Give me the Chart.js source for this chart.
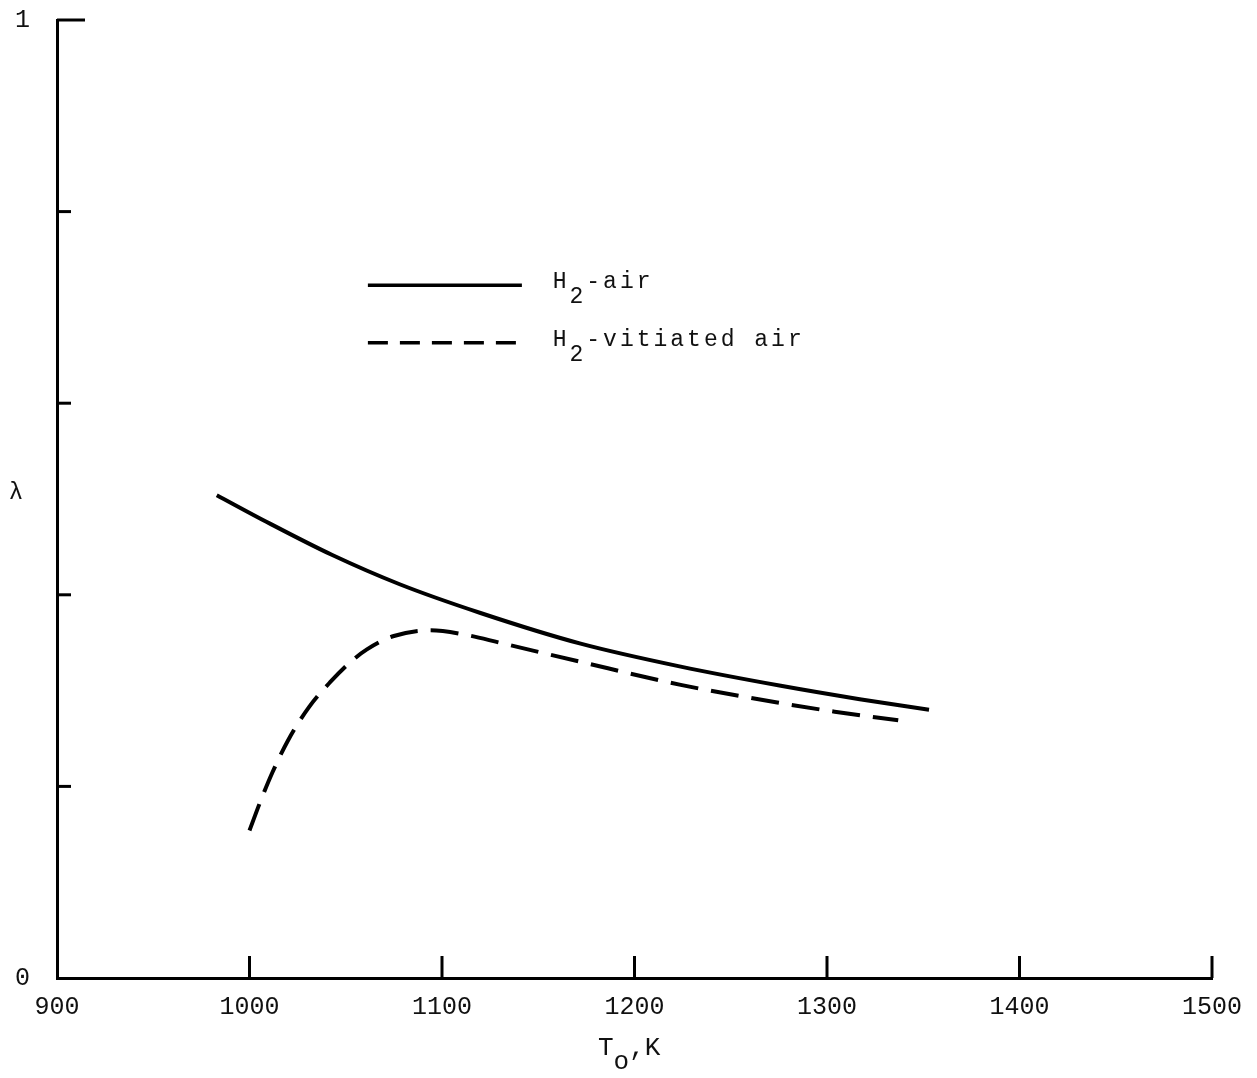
<!DOCTYPE html>
<html>
<head>
<meta charset="utf-8">
<script src="https://cdn.jsdelivr.net/npm/chart.js@4"></script>
<style>
  html, body { margin: 0; padding: 0; background: #fff; }
  canvas { display: block; }
</style>
</head>
<body>
<canvas id="chart" width="1257" height="1078"></canvas>
<script>
// values
var airT = [983, 1009, 1043, 1078, 1120, 1172, 1224, 1276, 1317, 1353]
var airLambda = [0.504, 0.476, 0.4415, 0.411, 0.381, 0.349, 0.325, 0.305, 0.291, 0.280]

var vitT = [1000, 1006, 1012, 1020, 1031, 1042, 1052, 1061, 1075, 1094, 1113, 1130, 1172, 1224, 1276, 1304, 1337]
var vitLambda = [0.154, 0.186, 0.215, 0.248, 0.283, 0.309, 0.329, 0.343, 0.357, 0.363, 0.358, 0.350, 0.330, 0.306, 0.287, 0.278, 0.269]

var seriesNames = ['H₂-air', 'H₂-vitiated air']
var xTicks = [900, 1000, 1100, 1200, 1300, 1400, 1500]
var yTicks = [0, 0.2, 0.4, 0.6, 0.8, 1]
var yTickLabels = ['0', '', '', '', '', '1']

var FONT = 'Liberation Mono'
var INK = '#111'

function toPoints(xs, ys) {
    return xs.map((x, i) => ({ x: x, y: ys[i] }))
}

// text with "₂"-style subscripts dropped below the baseline
function drawSubText(ctx, text, x, y, size, drop) {
    ctx.font = size + 'px "' + FONT + '"'
    ctx.textBaseline = 'alphabetic'
    ctx.textAlign = 'left'
    var parts = text.split(/([₀-₉ₒ])/)
    parts.forEach((p) => {
        if (!p) return
        var sub = /[₀-₉ₒ]/.test(p)
        if (sub) {
            var c = p === 'ₒ' ? 'o' : String.fromCharCode(p.charCodeAt(0) - 0x2080 + 48)
            ctx.fillText(c, x, y + drop)
            x += ctx.measureText(c).width
        } else {
            ctx.fillText(p, x, y)
            x += ctx.measureText(p).width
        }
    })
    return x
}

var decor = {
    id: 'decor',
    afterDraw(chart) {
        var ctx = chart.ctx
        var xs = chart.scales.x, ys = chart.scales.y
        var area = chart.chartArea
        ctx.save()
        ctx.strokeStyle = '#000'
        ctx.lineWidth = 3
        ctx.lineCap = 'butt'

        // y ticks point inward
        yTicks.forEach((v) => {
            if (v === 0) return
            var py = ys.getPixelForValue(v)
            var len = v === 1 ? 28 : 14
            ctx.beginPath()
            ctx.moveTo(area.left, py)
            ctx.lineTo(area.left + len, py)
            ctx.stroke()
        })
        // x ticks point upward
        xTicks.forEach((v) => {
            if (v === 900) return
            var px = xs.getPixelForValue(v)
            ctx.beginPath()
            ctx.moveTo(px, area.bottom)
            ctx.lineTo(px, area.bottom - 22)
            ctx.stroke()
        })

        ctx.fillStyle = INK
        // axis titles
        ctx.font = '24px "' + FONT + '"'
        ctx.textAlign = 'center'
        ctx.textBaseline = 'middle'
        ctx.fillText('λ', 16, ys.getPixelForValue(0.507))
        drawSubText(ctx, 'Tₒ,K', xs.getPixelForValue(1181), area.bottom + 77, 26, 14)

        // legend inside the plot
        var lx0 = xs.getPixelForValue(1061.5)
        var lx1 = xs.getPixelForValue(1141.5)
        var tx = xs.getPixelForValue(1157.5)
        var rows = [ys.getPixelForValue(0.723), ys.getPixelForValue(0.663)]
        var dashes = [[], [20, 12]]
        ctx.letterSpacing = '3px'
        rows.forEach((py, i) => {
            ctx.setLineDash(dashes[i])
            ctx.lineWidth = 3.5
            ctx.beginPath()
            ctx.moveTo(lx0, py)
            ctx.lineTo(lx1 + (i ? 4 : 0), py)
            ctx.stroke()
            ctx.setLineDash([])
            drawSubText(ctx, seriesNames[i], tx, py + 3, 23, 15)
        })
        ctx.restore()
    }
}

var ctx = document.getElementById('chart').getContext('2d')

var myChart = new Chart(ctx, {
    type: 'scatter',
    data: {
        datasets: [{
            label: seriesNames[0],
            data: toPoints(airT, airLambda),
            showLine: true,
            borderColor: '#000',
            borderWidth: 4,
            pointRadius: 0,
            cubicInterpolationMode: 'monotone'
        }, {
            label: seriesNames[1],
            data: toPoints(vitT, vitLambda),
            showLine: true,
            borderColor: '#000',
            borderWidth: 4,
            borderDash: [28, 13],
            pointRadius: 0,
            cubicInterpolationMode: 'monotone'
        }]
    },
    options: {
        responsive: false,
        animation: false,
        devicePixelRatio: 1,
        layout: { padding: { top: 20, right: 45, left: 0, bottom: 0 } },
        plugins: {
            legend: { display: false },
            tooltip: { enabled: false }
        },
        scales: {
            x: {
                type: 'linear',
                min: 900,
                max: 1500,
                afterBuildTicks: (scale) => { scale.ticks = xTicks.map((v) => ({ value: v })) },
                afterFit: (scale) => {
                    scale.height = 100
                    scale.paddingLeft = 0
                    scale.paddingRight = 0
                },
                grid: { display: false },
                border: { display: true, color: '#000', width: 3 },
                ticks: {
                    color: INK,
                    font: { family: FONT, size: 25 },
                    padding: 6,
                    maxRotation: 0,
                    callback: (v) => String(v)
                }
            },
            y: {
                type: 'linear',
                min: 0,
                max: 1,
                afterBuildTicks: (scale) => { scale.ticks = yTicks.map((v) => ({ value: v })) },
                afterFit: (scale) => {
                    scale.width = 57
                    scale.paddingTop = 0
                    scale.paddingBottom = 0
                },
                grid: { display: false },
                border: { display: true, color: '#000', width: 3 },
                ticks: {
                    color: INK,
                    font: { family: FONT, size: 25 },
                    padding: 19,
                    callback: (v) => yTickLabels[yTicks.indexOf(v)]
                }
            }
        }
    },
    plugins: [decor]
});
</script>
</body>
</html>
